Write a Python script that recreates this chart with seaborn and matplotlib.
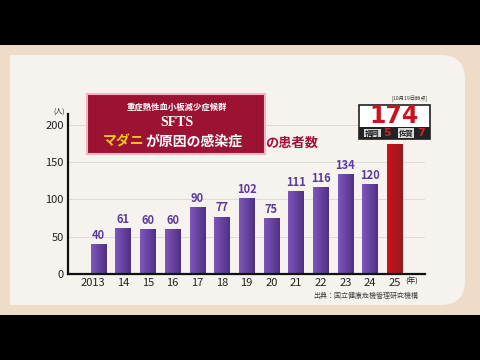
import numpy as np
import pandas as pd
import matplotlib
matplotlib.use("Agg")
import matplotlib.pyplot as plt
import matplotlib.transforms as mtrans
from matplotlib.patches import FancyBboxPatch, Rectangle
import seaborn as sns

years = ["2013", "14", "15", "16", "17", "18", "19", "20", "21", "22", "23", "24", "25"]
patients = [40, 61, 60, 60, 90, 77, 102, 75, 111, 116, 134, 120, 174]
yticks = [0, 50, 100, 150, 200]
title_l1 = "重症熱性血小板減少症候群"
title_l2 = "SFTS"
title_l3a = "マダニ"
title_l3b = "が原因の感染症"
title_tail = "の患者数"
box_note = "[10月19日時点]"
pref_names = ["福岡", "佐賀"]
pref_counts = ["5", "7"]
source = "出典：国立健康危機管理研究機構"

sns.set_theme(style="white")
JP = ["Noto Sans CJK JP", "DejaVu Sans"]
plt.rcParams["font.family"] = JP

W, H = 480, 360
fig = plt.figure(figsize=(4.8, 3.6), dpi=100)
fig.patch.set_facecolor("black")

def fx(px):
    return px / W

def fy(py):
    return 1 - py / H

# background card
fig.add_artist(Rectangle((0, fy(315)), 1, (315 - 45) / H, transform=fig.transFigure,
                         facecolor="#efdcc8", edgecolor="none", zorder=0))
fig.add_artist(FancyBboxPatch((fx(10), fy(305)), fx(455), (305 - 55) / H,
                              boxstyle="round,pad=0,rounding_size=0.05",
                              mutation_aspect=480 / 360,
                              transform=fig.transFigure, facecolor="#f6f3ef",
                              edgecolor="none", zorder=0))
fig.add_artist(Rectangle((fx(10), fy(305)), fx(60), (305 - 55) / H, transform=fig.transFigure,
                         facecolor="#f6f3ef", edgecolor="none", zorder=0))

ax = fig.add_axes([fx(68), 1 - 274 / H, 357 / W, 160 / H])
ax.set_facecolor("none")

df = pd.DataFrame({"year": years, "n": patients})
sns.barplot(data=df, x="year", y="n", ax=ax, width=0.63, color="#6a44a8",
            saturation=1, order=years)
ax.set_xlim(-1.24, 13.23)
ax.set_ylim(0, 214.5)

# gradient fill in each bar
ramp = np.linspace(0, 1, 64)
for i, p in enumerate(ax.patches):
    x0, w, h = p.get_x(), p.get_width(), p.get_height()
    if i == len(ax.patches) - 1:
        c1, c2 = np.array([0.80, 0.07, 0.10]), np.array([0.58, 0.10, 0.13])
    else:
        c1, c2 = np.array([0.50, 0.34, 0.74]), np.array([0.31, 0.19, 0.52])
    grad = c1[None, :] + (c2 - c1)[None, :] * ramp[:, None]
    img = ax.imshow(grad[None, :, :], extent=[x0, x0 + w, 0, h], aspect="auto",
                    zorder=2, interpolation="bilinear")
    img.set_clip_path(p)
    p.set_facecolor("none")
    p.set_edgecolor("none")

for i, v in enumerate(patients[:-1]):
    ax.annotate(str(v), (i, v), xytext=(0, 1.5), textcoords="offset points",
                ha="center", va="bottom", fontsize=8, color="#5a3a9c",
                fontweight="bold", family=JP)

ax.set_yticks(yticks)
ax.yaxis.grid(True, color="#dedbd6", lw=0.7)
ax.set_axisbelow(True)
for s in ["top", "right"]:
    ax.spines[s].set_visible(False)
for s in ["left", "bottom"]:
    ax.spines[s].set_color("#111111")
    ax.spines[s].set_linewidth(1.6)
ax.tick_params(axis="both", length=0, labelsize=8, colors="#222222", pad=3)
ax.set_xlabel("")
ax.set_ylabel("")

# shift the first year label left, as in the reference
fig.canvas.draw()
lbl0 = ax.get_xticklabels()[0]
lbl0.set_transform(lbl0.get_transform() + mtrans.ScaledTranslation(-6 / 100, 0, fig.dpi_scale_trans))

fig.text(fx(59), fy(112), "(人)", fontsize=5, ha="center", va="center", color="#222")
fig.text(fx(412), fy(282), "(年)", fontsize=5.5, ha="center", va="center", color="#222")
fig.text(fx(418), fy(296), source, fontsize=5, ha="right", va="center", color="#444")

# title box
fig.add_artist(FancyBboxPatch((fx(89), fy(153)), fx(174), (153 - 95) / H,
                              boxstyle="square,pad=0.004", transform=fig.transFigure,
                              facecolor="#9c1232", edgecolor="#f2b3c4", lw=1.5, zorder=3))
fig.text(fx(177), fy(107), title_l1, fontsize=6, ha="center", va="center",
         color="white", fontweight="bold", zorder=4)
fig.text(fx(177), fy(123), title_l2, fontsize=10, ha="center", va="center",
         color="white", fontweight="bold", family=["Liberation Serif", "DejaVu Serif"], zorder=4)
fig.text(fx(144), fy(142), title_l3a, fontsize=10, ha="right", va="center",
         color="#f5c41a", fontweight="bold", zorder=4)
fig.text(fx(145), fy(142), title_l3b, fontsize=10, ha="left", va="center",
         color="white", fontweight="bold", zorder=4)
fig.text(fx(265), fy(143), title_tail, fontsize=9.5, ha="left", va="center",
         color="#a3103e", fontweight="bold", zorder=4)

# count box
fig.text(fx(428), fy(99), box_note, fontsize=3.8, ha="right", va="center", color="#333")
fig.add_artist(Rectangle((fx(359), fy(139)), fx(71), (139 - 105) / H, transform=fig.transFigure,
                         facecolor="white", edgecolor="#222", lw=1.2, zorder=3))
fig.add_artist(Rectangle((fx(359), fy(139)), fx(71), (139 - 127) / H, transform=fig.transFigure,
                         facecolor="#222222", edgecolor="none", zorder=3))
fig.text(fx(394.5), fy(116), str(patients[-1]), fontsize=17, ha="center", va="center",
         color="#c8141e", fontweight="bold", family=["DejaVu Sans"], zorder=4)
for (nx, cx), name, cnt in zip([(372.5, 387), (406, 421.5)], pref_names, pref_counts):
    fig.text(fx(nx), fy(133), name, fontsize=5.3, ha="center", va="center", color="#222",
             fontweight="bold", zorder=5,
             bbox=dict(boxstyle="square,pad=0.12", facecolor="#d9d9d9", edgecolor="none"))
    fig.text(fx(cx), fy(133), cnt, fontsize=8, ha="center", va="center", color="#d81e2a",
             fontweight="bold", family=["DejaVu Sans"], zorder=5)

fig.savefig("out.png", dpi=100, facecolor=fig.get_facecolor())
